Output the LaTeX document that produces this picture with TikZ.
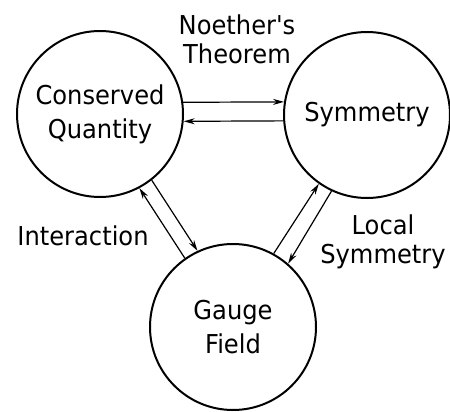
\documentclass[tikz,border=0pt]{standalone}
\usepackage{fontspec}
\newfontfamily\lettering[FakeStretch=0.93]{DejaVu Sans}
\usetikzlibrary{arrows.meta}
\begin{document}
\begin{tikzpicture}[x=1pt,y=-1pt,
  bubble/.style={circle, draw, line width=2pt, minimum size=166pt, inner sep=0pt,
    align=center, font=\lettering\fontsize{26}{34}\selectfont},
  annot/.style={inner sep=0pt, align=center, font=\lettering\fontsize{26}{29}\selectfont},
  link/.style={line width=1.2pt, -{Stealth[length=11pt,width=6pt]}}
]
\useasboundingbox (0,0) rectangle (450,412);

% the three quantities
\node[bubble] (cq) at (100,114) {Conserved\\Quantity};
\node[bubble] (sym) at (367,115) {Symmetry};
\node[bubble] (gf) at (233,327) {Gauge\\Field};

% labels on the links
\node[annot] (noether) at (237,39) {Noether's\\Theorem};
\node[annot, anchor=base] (inter) at (83,245) {Interaction};
\node[annot] (local) at (383,242) {Local\\Symmetry};

% Noether's theorem: both directions
\draw[link] (cq.8) -- (sym.171.7);
\draw[link] (sym.184.8) -- (cq.-5.2);

% interaction
\draw[link] (gf.125.9) -- (cq.-62.6);
\draw[link] (cq.-52.5) -- (gf.115.1);

% local symmetry
\draw[link] (gf.61.6) -- (sym.235.8);
\draw[link] (sym.245.6) -- (gf.49.8);
\end{tikzpicture}
\end{document}
